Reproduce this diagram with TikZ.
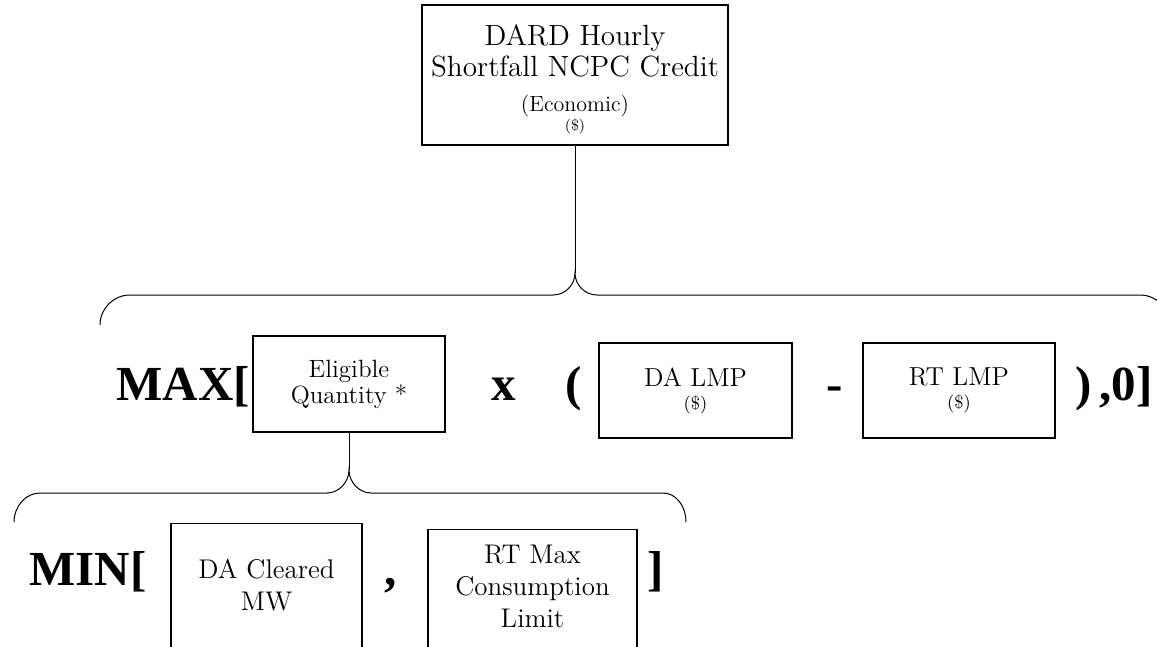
\documentclass[tikz,border=0pt]{standalone}
\usepackage{fontspec}
\newfontfamily\opfont{Liberation Serif}

\begin{document}
\begin{tikzpicture}[x=0.5pt, y=-0.5pt,
    box/.style={draw, line width=0.6pt, inner sep=0pt, align=center},
    op/.style={font=\opfont\bfseries\fontsize{24.5}{29}\selectfont, inner sep=0pt, anchor=base},
    link/.style={line width=0.5pt}
]
\useasboundingbox (0,0) rectangle (1157,647);
\node[box, minimum width=153pt, minimum height=70pt, font=\fontsize{14.6}{15.5}\selectfont] (dard) at (575,75) {\rule{0pt}{14.4pt}DARD Hourly\\Shortfall NCPC Credit\\[2pt]{\fontsize{11}{12}\selectfont (Economic)}\\[-6pt]{\fontsize{7.5}{8}\selectfont (\$)}};
\node[box, minimum width=96pt, minimum height=48pt, font=\fontsize{12.5}{11}\selectfont] (elig) at (349,384) {Eligible\\Quantity *};
\node[box, minimum width=96.5pt, minimum height=47.5pt, font=\fontsize{13}{11.5}\selectfont] (dalmp) at (695.5,390.5) {DA LMP\\{\fontsize{9}{9}\selectfont (\$)}};
\node[box, minimum width=96pt, minimum height=47.5pt, font=\fontsize{13}{11.5}\selectfont] (rtlmp) at (959,390.5) {RT LMP\\{\fontsize{9}{9}\selectfont (\$)}};
\node[box, anchor=north, minimum width=95.5pt, inner ysep=17.6pt, font=\fontsize{13.5}{16}\selectfont] (dacl) at (266.5,523) {DA Cleared\\MW\\\mbox{}};
\node[box, anchor=north, minimum width=104.5pt, inner ysep=7.8pt, font=\fontsize{13.5}{16}\selectfont] (rtmax) at (532.5,529) {RT Max\\Consumption\\Limit\\\mbox{}};

\node[op, anchor=base west] (maxop) at (116,400) {MAX[};
\node[op] (times) at (503.5,400) {x};
\node[op] (lpar) at (573.5,400) {(};
\node[op] (minus) at (835,400) {-};
\node[op, anchor=base east] (tail) at (1153,400) {)\,,0]};
\node[op, anchor=base west] (minop) at (29,585) {MIN[};
\node[op] (comma) at (391,585) {,};
\node[op] (rbrack) at (655.5,585) {]};

\coordinate (topcusp) at (575,273);
\coordinate (topL) at (100,325);
\coordinate (topR) at (1170,325);
\coordinate (lowcusp) at (349,470);
\coordinate (lowL) at (14,522);
\coordinate (lowR) at (686,522);
\draw[link] (dard.south) -- (topcusp);
\draw[link] (topL) .. controls (100,308.5) and (113.5,295) .. (130,295) -- (553,295) .. controls (565,295) and (575,285) .. (topcusp) .. controls (575,285) and (585,295) .. (597,295) -- (1140,295) .. controls (1156.5,295) and (1170,308.5) .. (topR);
\draw[link] (elig.south) -- (lowcusp);
\draw[link] (lowL) .. controls (14,506) and (26,493) .. (40,493) -- (327,493) .. controls (339,493) and (349,482) .. (lowcusp) .. controls (349,482) and (359,493) .. (371,493) -- (663,493) .. controls (676,493) and (686,506) .. (lowR);
\end{tikzpicture}
\end{document}
